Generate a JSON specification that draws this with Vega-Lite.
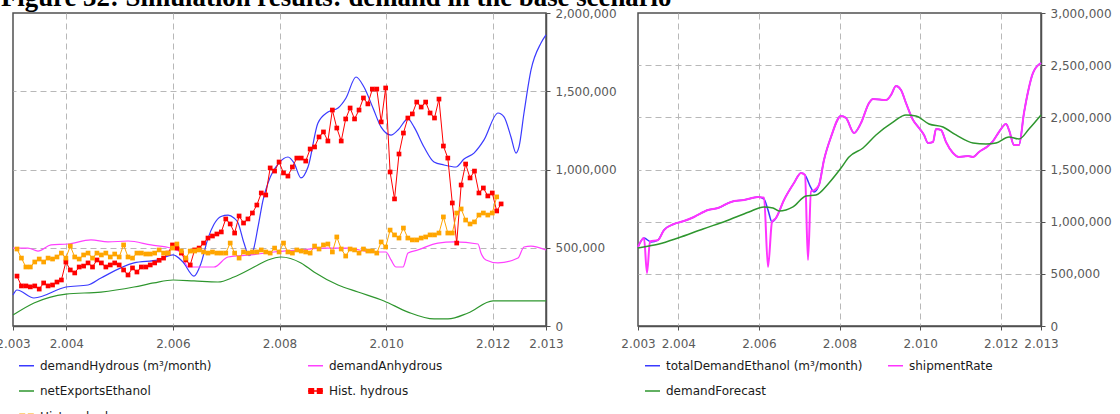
{
"$schema": "https://vega.github.io/schema/vega-lite/v6.json",
"background": "white",
"autosize": {"type": "pad"},
"padding": {"left": -5, "top": -15, "right": 0, "bottom": 0},
"title": {"text": "Figure 32: Simulation results: demand in the base scenario", "anchor": "start", "frame": "group", "font": "Liberation Serif", "fontSize": 26.8, "fontWeight": "bold", "color": "#000000", "baseline": "alphabetic", "offset": 0, "dx": -12, "dy": 27},
"datasets": {
"L": [
{"s":"demandHydrous (m³/month)","t":2003.000,"v":198000},{"s":"demandHydrous (m³/month)","t":2003.075,"v":230000},{"s":"demandHydrous (m³/month)","t":2003.394,"v":179000},{"s":"demandHydrous (m³/month)","t":2003.994,"v":249000},{"s":"demandHydrous (m³/month)","t":2004.407,"v":262000},{"s":"demandHydrous (m³/month)","t":2004.651,"v":307000},{"s":"demandHydrous (m³/month)","t":2005.270,"v":403000},{"s":"demandHydrous (m³/month)","t":2005.720,"v":422000},{"s":"demandHydrous (m³/month)","t":2006.002,"v":454000},{"s":"demandHydrous (m³/month)","t":2006.189,"v":409000},{"s":"demandHydrous (m³/month)","t":2006.396,"v":319000},{"s":"demandHydrous (m³/month)","t":2006.527,"v":400000},{"s":"demandHydrous (m³/month)","t":2006.658,"v":560000},{"s":"demandHydrous (m³/month)","t":2006.771,"v":650000},{"s":"demandHydrous (m³/month)","t":2006.902,"v":700000},{"s":"demandHydrous (m³/month)","t":2007.034,"v":709000},{"s":"demandHydrous (m³/month)","t":2007.146,"v":690000},{"s":"demandHydrous (m³/month)","t":2007.221,"v":660000},{"s":"demandHydrous (m³/month)","t":2007.334,"v":530000},{"s":"demandHydrous (m³/month)","t":2007.428,"v":450000},{"s":"demandHydrous (m³/month)","t":2007.503,"v":480000},{"s":"demandHydrous (m³/month)","t":2007.597,"v":633000},{"s":"demandHydrous (m³/month)","t":2007.691,"v":805000},{"s":"demandHydrous (m³/month)","t":2007.784,"v":914000},{"s":"demandHydrous (m³/month)","t":2007.991,"v":1042000},{"s":"demandHydrous (m³/month)","t":2008.159,"v":1080000},{"s":"demandHydrous (m³/month)","t":2008.272,"v":1042000},{"s":"demandHydrous (m³/month)","t":2008.403,"v":946000},{"s":"demandHydrous (m³/month)","t":2008.535,"v":1016000},{"s":"demandHydrous (m³/month)","t":2008.722,"v":1297000},{"s":"demandHydrous (m³/month)","t":2008.910,"v":1367000},{"s":"demandHydrous (m³/month)","t":2009.098,"v":1393000},{"s":"demandHydrous (m³/month)","t":2009.248,"v":1457000},{"s":"demandHydrous (m³/month)","t":2009.435,"v":1591000},{"s":"demandHydrous (m³/month)","t":2009.585,"v":1527000},{"s":"demandHydrous (m³/month)","t":2009.754,"v":1393000},{"s":"demandHydrous (m³/month)","t":2009.904,"v":1272000},{"s":"demandHydrous (m³/month)","t":2010.092,"v":1220000},{"s":"demandHydrous (m³/month)","t":2010.223,"v":1252000},{"s":"demandHydrous (m³/month)","t":2010.411,"v":1323000},{"s":"demandHydrous (m³/month)","t":2010.523,"v":1272000},{"s":"demandHydrous (m³/month)","t":2010.711,"v":1144000},{"s":"demandHydrous (m³/month)","t":2010.899,"v":1048000},{"s":"demandHydrous (m³/month)","t":2011.086,"v":1029000},{"s":"demandHydrous (m³/month)","t":2011.311,"v":1016000},{"s":"demandHydrous (m³/month)","t":2011.462,"v":1067000},{"s":"demandHydrous (m³/month)","t":2011.649,"v":1105000},{"s":"demandHydrous (m³/month)","t":2011.837,"v":1189000},{"s":"demandHydrous (m³/month)","t":2012.099,"v":1361000},{"s":"demandHydrous (m³/month)","t":2012.212,"v":1336000},{"s":"demandHydrous (m³/month)","t":2012.343,"v":1208000},{"s":"demandHydrous (m³/month)","t":2012.437,"v":1105000},{"s":"demandHydrous (m³/month)","t":2012.493,"v":1144000},{"s":"demandHydrous (m³/month)","t":2012.587,"v":1361000},{"s":"demandHydrous (m³/month)","t":2012.719,"v":1636000},{"s":"demandHydrous (m³/month)","t":2012.906,"v":1808000},{"s":"demandHydrous (m³/month)","t":2013.000,"v":1860000},
{"s":"demandAnhydrous","t":2003.000,"v":498000},{"s":"demandAnhydrous","t":2003.281,"v":498000},{"s":"demandAnhydrous","t":2003.469,"v":479000},{"s":"demandAnhydrous","t":2003.713,"v":518000},{"s":"demandAnhydrous","t":2004.032,"v":524000},{"s":"demandAnhydrous","t":2004.463,"v":550000},{"s":"demandAnhydrous","t":2004.782,"v":537000},{"s":"demandAnhydrous","t":2005.158,"v":543000},{"s":"demandAnhydrous","t":2005.589,"v":518000},{"s":"demandAnhydrous","t":2005.964,"v":498000},{"s":"demandAnhydrous","t":2006.152,"v":470000},{"s":"demandAnhydrous","t":2006.283,"v":377000},{"s":"demandAnhydrous","t":2006.771,"v":377000},{"s":"demandAnhydrous","t":2007.034,"v":441000},{"s":"demandAnhydrous","t":2007.465,"v":454000},{"s":"demandAnhydrous","t":2007.897,"v":473000},{"s":"demandAnhydrous","t":2008.403,"v":486000},{"s":"demandAnhydrous","t":2008.835,"v":498000},{"s":"demandAnhydrous","t":2009.285,"v":498000},{"s":"demandAnhydrous","t":2009.716,"v":473000},{"s":"demandAnhydrous","t":2009.998,"v":473000},{"s":"demandAnhydrous","t":2010.092,"v":422000},{"s":"demandAnhydrous","t":2010.186,"v":377000},{"s":"demandAnhydrous","t":2010.317,"v":377000},{"s":"demandAnhydrous","t":2010.411,"v":466000},{"s":"demandAnhydrous","t":2010.598,"v":486000},{"s":"demandAnhydrous","t":2010.973,"v":530000},{"s":"demandAnhydrous","t":2011.274,"v":537000},{"s":"demandAnhydrous","t":2011.724,"v":524000},{"s":"demandAnhydrous","t":2011.780,"v":466000},{"s":"demandAnhydrous","t":2011.874,"v":422000},{"s":"demandAnhydrous","t":2012.099,"v":403000},{"s":"demandAnhydrous","t":2012.474,"v":434000},{"s":"demandAnhydrous","t":2012.587,"v":505000},{"s":"demandAnhydrous","t":2012.718,"v":511000},{"s":"demandAnhydrous","t":2013.000,"v":486000},
{"s":"netExportsEthanol","t":2003.000,"v":70000},{"s":"netExportsEthanol","t":2003.394,"v":147000},{"s":"netExportsEthanol","t":2003.994,"v":204000},{"s":"netExportsEthanol","t":2004.651,"v":217000},{"s":"netExportsEthanol","t":2005.270,"v":249000},{"s":"netExportsEthanol","t":2005.645,"v":275000},{"s":"netExportsEthanol","t":2006.002,"v":294000},{"s":"netExportsEthanol","t":2006.396,"v":288000},{"s":"netExportsEthanol","t":2006.846,"v":281000},{"s":"netExportsEthanol","t":2007.146,"v":313000},{"s":"netExportsEthanol","t":2007.522,"v":377000},{"s":"netExportsEthanol","t":2007.784,"v":422000},{"s":"netExportsEthanol","t":2008.028,"v":441000},{"s":"netExportsEthanol","t":2008.403,"v":403000},{"s":"netExportsEthanol","t":2008.647,"v":345000},{"s":"netExportsEthanol","t":2009.098,"v":262000},{"s":"netExportsEthanol","t":2009.473,"v":217000},{"s":"netExportsEthanol","t":2009.961,"v":160000},{"s":"netExportsEthanol","t":2010.411,"v":89000},{"s":"netExportsEthanol","t":2010.899,"v":45000},{"s":"netExportsEthanol","t":2011.161,"v":45000},{"s":"netExportsEthanol","t":2011.537,"v":83000},{"s":"netExportsEthanol","t":2012.006,"v":160000},{"s":"netExportsEthanol","t":2013.000,"v":160000}
],
"H": [
{"s":"Hist. hydrous","t":2003.075,"v":319000},{"s":"Hist. hydrous","t":2003.158,"v":256000},{"s":"Hist. hydrous","t":2003.242,"v":256000},{"s":"Hist. hydrous","t":2003.325,"v":250000},{"s":"Hist. hydrous","t":2003.408,"v":256000},{"s":"Hist. hydrous","t":2003.492,"v":236000},{"s":"Hist. hydrous","t":2003.575,"v":275000},{"s":"Hist. hydrous","t":2003.658,"v":256000},{"s":"Hist. hydrous","t":2003.742,"v":262000},{"s":"Hist. hydrous","t":2003.825,"v":281000},{"s":"Hist. hydrous","t":2003.908,"v":294000},{"s":"Hist. hydrous","t":2003.992,"v":409000},
{"s":"Hist. hydrous","t":2004.075,"v":358000},{"s":"Hist. hydrous","t":2004.158,"v":339000},{"s":"Hist. hydrous","t":2004.242,"v":377000},{"s":"Hist. hydrous","t":2004.325,"v":383000},{"s":"Hist. hydrous","t":2004.408,"v":403000},{"s":"Hist. hydrous","t":2004.492,"v":377000},{"s":"Hist. hydrous","t":2004.575,"v":422000},{"s":"Hist. hydrous","t":2004.658,"v":403000},{"s":"Hist. hydrous","t":2004.742,"v":377000},{"s":"Hist. hydrous","t":2004.825,"v":390000},{"s":"Hist. hydrous","t":2004.908,"v":403000},{"s":"Hist. hydrous","t":2004.992,"v":390000},
{"s":"Hist. hydrous","t":2005.075,"v":358000},{"s":"Hist. hydrous","t":2005.158,"v":326000},{"s":"Hist. hydrous","t":2005.242,"v":371000},{"s":"Hist. hydrous","t":2005.325,"v":345000},{"s":"Hist. hydrous","t":2005.408,"v":377000},{"s":"Hist. hydrous","t":2005.492,"v":377000},{"s":"Hist. hydrous","t":2005.575,"v":390000},{"s":"Hist. hydrous","t":2005.658,"v":403000},{"s":"Hist. hydrous","t":2005.742,"v":420000},{"s":"Hist. hydrous","t":2005.825,"v":434000},{"s":"Hist. hydrous","t":2005.908,"v":466000},{"s":"Hist. hydrous","t":2005.992,"v":518000},
{"s":"Hist. hydrous","t":2006.075,"v":498000},{"s":"Hist. hydrous","t":2006.158,"v":466000},{"s":"Hist. hydrous","t":2006.242,"v":422000},{"s":"Hist. hydrous","t":2006.325,"v":390000},{"s":"Hist. hydrous","t":2006.408,"v":486000},{"s":"Hist. hydrous","t":2006.492,"v":498000},{"s":"Hist. hydrous","t":2006.575,"v":530000},{"s":"Hist. hydrous","t":2006.658,"v":562000},{"s":"Hist. hydrous","t":2006.742,"v":575000},{"s":"Hist. hydrous","t":2006.825,"v":588000},{"s":"Hist. hydrous","t":2006.908,"v":601000},{"s":"Hist. hydrous","t":2006.992,"v":684000},
{"s":"Hist. hydrous","t":2007.075,"v":652000},{"s":"Hist. hydrous","t":2007.158,"v":594000},{"s":"Hist. hydrous","t":2007.242,"v":703000},{"s":"Hist. hydrous","t":2007.325,"v":658000},{"s":"Hist. hydrous","t":2007.408,"v":684000},{"s":"Hist. hydrous","t":2007.492,"v":722000},{"s":"Hist. hydrous","t":2007.575,"v":773000},{"s":"Hist. hydrous","t":2007.658,"v":850000},{"s":"Hist. hydrous","t":2007.742,"v":837000},{"s":"Hist. hydrous","t":2007.825,"v":1010000},{"s":"Hist. hydrous","t":2007.908,"v":990000},{"s":"Hist. hydrous","t":2007.992,"v":1048000},
{"s":"Hist. hydrous","t":2008.075,"v":978000},{"s":"Hist. hydrous","t":2008.158,"v":958000},{"s":"Hist. hydrous","t":2008.242,"v":1016000},{"s":"Hist. hydrous","t":2008.325,"v":1073000},{"s":"Hist. hydrous","t":2008.408,"v":1073000},{"s":"Hist. hydrous","t":2008.492,"v":1054000},{"s":"Hist. hydrous","t":2008.575,"v":1131000},{"s":"Hist. hydrous","t":2008.658,"v":1144000},{"s":"Hist. hydrous","t":2008.742,"v":1208000},{"s":"Hist. hydrous","t":2008.825,"v":1240000},{"s":"Hist. hydrous","t":2008.908,"v":1182000},{"s":"Hist. hydrous","t":2008.992,"v":1380000},
{"s":"Hist. hydrous","t":2009.075,"v":1265000},{"s":"Hist. hydrous","t":2009.158,"v":1182000},{"s":"Hist. hydrous","t":2009.242,"v":1323000},{"s":"Hist. hydrous","t":2009.325,"v":1393000},{"s":"Hist. hydrous","t":2009.408,"v":1323000},{"s":"Hist. hydrous","t":2009.492,"v":1380000},{"s":"Hist. hydrous","t":2009.575,"v":1457000},{"s":"Hist. hydrous","t":2009.658,"v":1419000},{"s":"Hist. hydrous","t":2009.742,"v":1514000},{"s":"Hist. hydrous","t":2009.825,"v":1514000},{"s":"Hist. hydrous","t":2009.908,"v":1304000},{"s":"Hist. hydrous","t":2009.992,"v":1521000},
{"s":"Hist. hydrous","t":2010.075,"v":984000},{"s":"Hist. hydrous","t":2010.158,"v":812000},{"s":"Hist. hydrous","t":2010.242,"v":1099000},{"s":"Hist. hydrous","t":2010.325,"v":1233000},{"s":"Hist. hydrous","t":2010.408,"v":1329000},{"s":"Hist. hydrous","t":2010.492,"v":1355000},{"s":"Hist. hydrous","t":2010.575,"v":1431000},{"s":"Hist. hydrous","t":2010.658,"v":1399000},{"s":"Hist. hydrous","t":2010.742,"v":1431000},{"s":"Hist. hydrous","t":2010.825,"v":1361000},{"s":"Hist. hydrous","t":2010.908,"v":1329000},{"s":"Hist. hydrous","t":2010.992,"v":1450000},
{"s":"Hist. hydrous","t":2011.075,"v":1150000},{"s":"Hist. hydrous","t":2011.158,"v":1073000},{"s":"Hist. hydrous","t":2011.242,"v":786000},{"s":"Hist. hydrous","t":2011.325,"v":530000},{"s":"Hist. hydrous","t":2011.408,"v":901000},{"s":"Hist. hydrous","t":2011.492,"v":1035000},{"s":"Hist. hydrous","t":2011.575,"v":946000},{"s":"Hist. hydrous","t":2011.658,"v":990000},{"s":"Hist. hydrous","t":2011.742,"v":850000},{"s":"Hist. hydrous","t":2011.825,"v":882000},{"s":"Hist. hydrous","t":2011.908,"v":831000},{"s":"Hist. hydrous","t":2011.992,"v":850000},
{"s":"Hist. hydrous","t":2012.075,"v":735000},{"s":"Hist. hydrous","t":2012.158,"v":780000},
{"s":"Hist. anhydrous","t":2003.075,"v":492000},{"s":"Hist. anhydrous","t":2003.158,"v":434000},{"s":"Hist. anhydrous","t":2003.242,"v":377000},{"s":"Hist. anhydrous","t":2003.325,"v":377000},{"s":"Hist. anhydrous","t":2003.408,"v":409000},{"s":"Hist. anhydrous","t":2003.492,"v":428000},{"s":"Hist. anhydrous","t":2003.575,"v":409000},{"s":"Hist. anhydrous","t":2003.658,"v":434000},{"s":"Hist. anhydrous","t":2003.742,"v":428000},{"s":"Hist. anhydrous","t":2003.825,"v":441000},{"s":"Hist. anhydrous","t":2003.908,"v":466000},{"s":"Hist. anhydrous","t":2003.992,"v":434000},
{"s":"Hist. anhydrous","t":2004.075,"v":511000},{"s":"Hist. anhydrous","t":2004.158,"v":441000},{"s":"Hist. anhydrous","t":2004.242,"v":428000},{"s":"Hist. anhydrous","t":2004.325,"v":454000},{"s":"Hist. anhydrous","t":2004.408,"v":466000},{"s":"Hist. anhydrous","t":2004.492,"v":434000},{"s":"Hist. anhydrous","t":2004.575,"v":466000},{"s":"Hist. anhydrous","t":2004.658,"v":454000},{"s":"Hist. anhydrous","t":2004.742,"v":466000},{"s":"Hist. anhydrous","t":2004.825,"v":441000},{"s":"Hist. anhydrous","t":2004.908,"v":460000},{"s":"Hist. anhydrous","t":2004.992,"v":441000},
{"s":"Hist. anhydrous","t":2005.075,"v":518000},{"s":"Hist. anhydrous","t":2005.158,"v":441000},{"s":"Hist. anhydrous","t":2005.242,"v":434000},{"s":"Hist. anhydrous","t":2005.325,"v":466000},{"s":"Hist. anhydrous","t":2005.408,"v":466000},{"s":"Hist. anhydrous","t":2005.492,"v":460000},{"s":"Hist. anhydrous","t":2005.575,"v":460000},{"s":"Hist. anhydrous","t":2005.658,"v":466000},{"s":"Hist. anhydrous","t":2005.742,"v":486000},{"s":"Hist. anhydrous","t":2005.825,"v":466000},{"s":"Hist. anhydrous","t":2005.908,"v":466000},{"s":"Hist. anhydrous","t":2005.992,"v":498000},
{"s":"Hist. anhydrous","t":2006.075,"v":524000},{"s":"Hist. anhydrous","t":2006.158,"v":479000},{"s":"Hist. anhydrous","t":2006.242,"v":434000},{"s":"Hist. anhydrous","t":2006.325,"v":479000},{"s":"Hist. anhydrous","t":2006.408,"v":479000},{"s":"Hist. anhydrous","t":2006.492,"v":486000},{"s":"Hist. anhydrous","t":2006.575,"v":473000},{"s":"Hist. anhydrous","t":2006.658,"v":466000},{"s":"Hist. anhydrous","t":2006.742,"v":473000},{"s":"Hist. anhydrous","t":2006.825,"v":466000},{"s":"Hist. anhydrous","t":2006.908,"v":466000},{"s":"Hist. anhydrous","t":2006.992,"v":466000},
{"s":"Hist. anhydrous","t":2007.075,"v":530000},{"s":"Hist. anhydrous","t":2007.158,"v":466000},{"s":"Hist. anhydrous","t":2007.242,"v":434000},{"s":"Hist. anhydrous","t":2007.325,"v":473000},{"s":"Hist. anhydrous","t":2007.408,"v":466000},{"s":"Hist. anhydrous","t":2007.492,"v":473000},{"s":"Hist. anhydrous","t":2007.575,"v":473000},{"s":"Hist. anhydrous","t":2007.658,"v":486000},{"s":"Hist. anhydrous","t":2007.742,"v":473000},{"s":"Hist. anhydrous","t":2007.825,"v":466000},{"s":"Hist. anhydrous","t":2007.908,"v":498000},{"s":"Hist. anhydrous","t":2007.992,"v":473000},
{"s":"Hist. anhydrous","t":2008.075,"v":530000},{"s":"Hist. anhydrous","t":2008.158,"v":473000},{"s":"Hist. anhydrous","t":2008.242,"v":466000},{"s":"Hist. anhydrous","t":2008.325,"v":486000},{"s":"Hist. anhydrous","t":2008.408,"v":479000},{"s":"Hist. anhydrous","t":2008.492,"v":473000},{"s":"Hist. anhydrous","t":2008.575,"v":466000},{"s":"Hist. anhydrous","t":2008.658,"v":511000},{"s":"Hist. anhydrous","t":2008.742,"v":492000},{"s":"Hist. anhydrous","t":2008.825,"v":518000},{"s":"Hist. anhydrous","t":2008.908,"v":524000},{"s":"Hist. anhydrous","t":2008.992,"v":473000},
{"s":"Hist. anhydrous","t":2009.075,"v":569000},{"s":"Hist. anhydrous","t":2009.158,"v":492000},{"s":"Hist. anhydrous","t":2009.242,"v":447000},{"s":"Hist. anhydrous","t":2009.325,"v":492000},{"s":"Hist. anhydrous","t":2009.408,"v":486000},{"s":"Hist. anhydrous","t":2009.492,"v":466000},{"s":"Hist. anhydrous","t":2009.575,"v":492000},{"s":"Hist. anhydrous","t":2009.658,"v":479000},{"s":"Hist. anhydrous","t":2009.742,"v":479000},{"s":"Hist. anhydrous","t":2009.825,"v":466000},{"s":"Hist. anhydrous","t":2009.908,"v":537000},{"s":"Hist. anhydrous","t":2009.992,"v":505000},
{"s":"Hist. anhydrous","t":2010.075,"v":613000},{"s":"Hist. anhydrous","t":2010.158,"v":582000},{"s":"Hist. anhydrous","t":2010.242,"v":562000},{"s":"Hist. anhydrous","t":2010.325,"v":626000},{"s":"Hist. anhydrous","t":2010.408,"v":562000},{"s":"Hist. anhydrous","t":2010.492,"v":550000},{"s":"Hist. anhydrous","t":2010.575,"v":550000},{"s":"Hist. anhydrous","t":2010.658,"v":562000},{"s":"Hist. anhydrous","t":2010.742,"v":569000},{"s":"Hist. anhydrous","t":2010.825,"v":582000},{"s":"Hist. anhydrous","t":2010.908,"v":582000},{"s":"Hist. anhydrous","t":2010.992,"v":594000},
{"s":"Hist. anhydrous","t":2011.075,"v":697000},{"s":"Hist. anhydrous","t":2011.158,"v":594000},{"s":"Hist. anhydrous","t":2011.242,"v":594000},{"s":"Hist. anhydrous","t":2011.325,"v":722000},{"s":"Hist. anhydrous","t":2011.408,"v":748000},{"s":"Hist. anhydrous","t":2011.492,"v":677000},{"s":"Hist. anhydrous","t":2011.575,"v":652000},{"s":"Hist. anhydrous","t":2011.658,"v":665000},{"s":"Hist. anhydrous","t":2011.742,"v":709000},{"s":"Hist. anhydrous","t":2011.825,"v":722000},{"s":"Hist. anhydrous","t":2011.908,"v":709000},{"s":"Hist. anhydrous","t":2011.992,"v":722000},
{"s":"Hist. anhydrous","t":2012.075,"v":825000}
],
"R": [
{"s":"totalDemandEthanol (m³/month)","t":2003.000,"v":757000},{"s":"totalDemandEthanol (m³/month)","t":2003.149,"v":843000},{"s":"totalDemandEthanol (m³/month)","t":2003.323,"v":805000},{"s":"totalDemandEthanol (m³/month)","t":2003.496,"v":824000},{"s":"totalDemandEthanol (m³/month)","t":2003.645,"v":920000},{"s":"totalDemandEthanol (m³/month)","t":2003.893,"v":978000},{"s":"totalDemandEthanol (m³/month)","t":2004.141,"v":1006000},{"s":"totalDemandEthanol (m³/month)","t":2004.390,"v":1045000},{"s":"totalDemandEthanol (m³/month)","t":2004.737,"v":1112000},{"s":"totalDemandEthanol (m³/month)","t":2004.985,"v":1131000},{"s":"totalDemandEthanol (m³/month)","t":2005.308,"v":1189000},{"s":"totalDemandEthanol (m³/month)","t":2005.630,"v":1208000},{"s":"totalDemandEthanol (m³/month)","t":2005.978,"v":1236000},{"s":"totalDemandEthanol (m³/month)","t":2006.127,"v":1217000},{"s":"totalDemandEthanol (m³/month)","t":2006.226,"v":1112000},{"s":"totalDemandEthanol (m³/month)","t":2006.325,"v":997000},{"s":"totalDemandEthanol (m³/month)","t":2006.424,"v":1035000},{"s":"totalDemandEthanol (m³/month)","t":2006.623,"v":1208000},{"s":"totalDemandEthanol (m³/month)","t":2006.871,"v":1371000},{"s":"totalDemandEthanol (m³/month)","t":2007.045,"v":1467000},{"s":"totalDemandEthanol (m³/month)","t":2007.144,"v":1447000},{"s":"totalDemandEthanol (m³/month)","t":2007.293,"v":1323000},{"s":"totalDemandEthanol (m³/month)","t":2007.367,"v":1284000},{"s":"totalDemandEthanol (m³/month)","t":2007.491,"v":1351000},{"s":"totalDemandEthanol (m³/month)","t":2007.615,"v":1591000},{"s":"totalDemandEthanol (m³/month)","t":2007.789,"v":1812000},{"s":"totalDemandEthanol (m³/month)","t":2008.037,"v":2013000},{"s":"totalDemandEthanol (m³/month)","t":2008.161,"v":1994000},{"s":"totalDemandEthanol (m³/month)","t":2008.360,"v":1850000},{"s":"totalDemandEthanol (m³/month)","t":2008.534,"v":1946000},{"s":"totalDemandEthanol (m³/month)","t":2008.732,"v":2137000},{"s":"totalDemandEthanol (m³/month)","t":2008.831,"v":2176000},{"s":"totalDemandEthanol (m³/month)","t":2009.154,"v":2166000},{"s":"totalDemandEthanol (m³/month)","t":2009.278,"v":2214000},{"s":"totalDemandEthanol (m³/month)","t":2009.402,"v":2300000},{"s":"totalDemandEthanol (m³/month)","t":2009.526,"v":2262000},{"s":"totalDemandEthanol (m³/month)","t":2009.650,"v":2137000},{"s":"totalDemandEthanol (m³/month)","t":2009.824,"v":1975000},{"s":"totalDemandEthanol (m³/month)","t":2009.973,"v":1898000},{"s":"totalDemandEthanol (m³/month)","t":2010.097,"v":1831000},{"s":"totalDemandEthanol (m³/month)","t":2010.196,"v":1754000},{"s":"totalDemandEthanol (m³/month)","t":2010.320,"v":1764000},{"s":"totalDemandEthanol (m³/month)","t":2010.395,"v":1888000},{"s":"totalDemandEthanol (m³/month)","t":2010.519,"v":1879000},{"s":"totalDemandEthanol (m³/month)","t":2010.643,"v":1764000},{"s":"totalDemandEthanol (m³/month)","t":2010.816,"v":1658000},{"s":"totalDemandEthanol (m³/month)","t":2010.965,"v":1620000},{"s":"totalDemandEthanol (m³/month)","t":2011.189,"v":1629000},{"s":"totalDemandEthanol (m³/month)","t":2011.313,"v":1620000},{"s":"totalDemandEthanol (m³/month)","t":2011.462,"v":1668000},{"s":"totalDemandEthanol (m³/month)","t":2011.685,"v":1725000},{"s":"totalDemandEthanol (m³/month)","t":2011.809,"v":1773000},{"s":"totalDemandEthanol (m³/month)","t":2011.958,"v":1860000},{"s":"totalDemandEthanol (m³/month)","t":2012.132,"v":1936000},{"s":"totalDemandEthanol (m³/month)","t":2012.206,"v":1879000},{"s":"totalDemandEthanol (m³/month)","t":2012.330,"v":1735000},{"s":"totalDemandEthanol (m³/month)","t":2012.454,"v":1735000},{"s":"totalDemandEthanol (m³/month)","t":2012.578,"v":2042000},{"s":"totalDemandEthanol (m³/month)","t":2012.677,"v":2243000},{"s":"totalDemandEthanol (m³/month)","t":2012.801,"v":2425000},{"s":"totalDemandEthanol (m³/month)","t":2013.000,"v":2521000},
{"s":"shipmentRate","t":2003.000,"v":757000},{"s":"shipmentRate","t":2003.149,"v":843000},{"s":"shipmentRate","t":2003.223,"v":508000},{"s":"shipmentRate","t":2003.298,"v":810000},{"s":"shipmentRate","t":2003.496,"v":824000},{"s":"shipmentRate","t":2003.645,"v":920000},{"s":"shipmentRate","t":2003.893,"v":978000},{"s":"shipmentRate","t":2004.141,"v":1006000},{"s":"shipmentRate","t":2004.390,"v":1045000},{"s":"shipmentRate","t":2004.737,"v":1112000},{"s":"shipmentRate","t":2004.985,"v":1131000},{"s":"shipmentRate","t":2005.308,"v":1189000},{"s":"shipmentRate","t":2005.630,"v":1208000},{"s":"shipmentRate","t":2005.978,"v":1236000},{"s":"shipmentRate","t":2006.127,"v":1230000},{"s":"shipmentRate","t":2006.226,"v":565000},{"s":"shipmentRate","t":2006.325,"v":997000},{"s":"shipmentRate","t":2006.424,"v":1035000},{"s":"shipmentRate","t":2006.623,"v":1208000},{"s":"shipmentRate","t":2006.871,"v":1371000},{"s":"shipmentRate","t":2007.045,"v":1467000},{"s":"shipmentRate","t":2007.144,"v":1447000},{"s":"shipmentRate","t":2007.218,"v":633000},{"s":"shipmentRate","t":2007.293,"v":1290000},{"s":"shipmentRate","t":2007.367,"v":1300000},{"s":"shipmentRate","t":2007.491,"v":1351000},{"s":"shipmentRate","t":2007.615,"v":1591000},{"s":"shipmentRate","t":2007.789,"v":1812000},{"s":"shipmentRate","t":2008.037,"v":2013000},{"s":"shipmentRate","t":2008.161,"v":1994000},{"s":"shipmentRate","t":2008.360,"v":1850000},{"s":"shipmentRate","t":2008.534,"v":1946000},{"s":"shipmentRate","t":2008.732,"v":2137000},{"s":"shipmentRate","t":2008.831,"v":2176000},{"s":"shipmentRate","t":2009.154,"v":2166000},{"s":"shipmentRate","t":2009.278,"v":2214000},{"s":"shipmentRate","t":2009.402,"v":2300000},{"s":"shipmentRate","t":2009.526,"v":2262000},{"s":"shipmentRate","t":2009.650,"v":2137000},{"s":"shipmentRate","t":2009.824,"v":1975000},{"s":"shipmentRate","t":2009.973,"v":1898000},{"s":"shipmentRate","t":2010.097,"v":1831000},{"s":"shipmentRate","t":2010.196,"v":1754000},{"s":"shipmentRate","t":2010.320,"v":1764000},{"s":"shipmentRate","t":2010.395,"v":1888000},{"s":"shipmentRate","t":2010.519,"v":1879000},{"s":"shipmentRate","t":2010.643,"v":1764000},{"s":"shipmentRate","t":2010.816,"v":1658000},{"s":"shipmentRate","t":2010.965,"v":1620000},{"s":"shipmentRate","t":2011.189,"v":1629000},{"s":"shipmentRate","t":2011.313,"v":1620000},{"s":"shipmentRate","t":2011.462,"v":1668000},{"s":"shipmentRate","t":2011.685,"v":1725000},{"s":"shipmentRate","t":2011.809,"v":1773000},{"s":"shipmentRate","t":2011.958,"v":1860000},{"s":"shipmentRate","t":2012.132,"v":1936000},{"s":"shipmentRate","t":2012.206,"v":1879000},{"s":"shipmentRate","t":2012.330,"v":1735000},{"s":"shipmentRate","t":2012.454,"v":1735000},{"s":"shipmentRate","t":2012.578,"v":2042000},{"s":"shipmentRate","t":2012.677,"v":2243000},{"s":"shipmentRate","t":2012.801,"v":2425000},{"s":"shipmentRate","t":2013.000,"v":2521000},
{"s":"demandForecast","t":2003.000,"v":748000},{"s":"demandForecast","t":2003.273,"v":767000},{"s":"demandForecast","t":2003.521,"v":786000},{"s":"demandForecast","t":2003.993,"v":843000},{"s":"demandForecast","t":2004.613,"v":930000},{"s":"demandForecast","t":2005.184,"v":1006000},{"s":"demandForecast","t":2005.754,"v":1093000},{"s":"demandForecast","t":2006.127,"v":1141000},{"s":"demandForecast","t":2006.350,"v":1131000},{"s":"demandForecast","t":2006.499,"v":1102000},{"s":"demandForecast","t":2006.846,"v":1141000},{"s":"demandForecast","t":2007.169,"v":1246000},{"s":"demandForecast","t":2007.417,"v":1256000},{"s":"demandForecast","t":2007.739,"v":1371000},{"s":"demandForecast","t":2008.037,"v":1514000},{"s":"demandForecast","t":2008.236,"v":1620000},{"s":"demandForecast","t":2008.583,"v":1706000},{"s":"demandForecast","t":2008.906,"v":1831000},{"s":"demandForecast","t":2009.328,"v":1955000},{"s":"demandForecast","t":2009.650,"v":2022000},{"s":"demandForecast","t":2009.898,"v":2013000},{"s":"demandForecast","t":2010.221,"v":1936000},{"s":"demandForecast","t":2010.568,"v":1907000},{"s":"demandForecast","t":2010.891,"v":1831000},{"s":"demandForecast","t":2011.313,"v":1754000},{"s":"demandForecast","t":2011.635,"v":1744000},{"s":"demandForecast","t":2011.883,"v":1754000},{"s":"demandForecast","t":2012.206,"v":1812000},{"s":"demandForecast","t":2012.454,"v":1792000},{"s":"demandForecast","t":2012.702,"v":1888000},{"s":"demandForecast","t":2013.000,"v":2022000}
]
},
"spacing": 92,
"bounds": "flush",
"resolve": {"scale": {"color": "independent", "shape": "independent", "x": "independent", "y": "independent"}, "legend": {"color": "independent", "shape": "independent"}},
"hconcat": [
{
"width": 533, "height": 313,
"encoding": {
  "x": {"field": "t", "type": "quantitative", "scale": {"domain": [2003, 2013], "nice": false, "zero": false},
        "axis": {"values": [2003, 2004, 2006, 2008, 2010, 2012, 2013], "labelExpr": "replace(format(datum.value, ','), ',', '.')", "labelPadding": 8, "labelFlush": false,
                 "gridColor": {"condition": {"test": "datum.value === 2003 || datum.value === 2013", "value": "transparent"}, "value": "#b8b8b8"}}},
  "y": {"field": "v", "type": "quantitative", "scale": {"domain": [0, 2000000], "nice": false},
        "axis": {"orient": "right", "values": [0, 500000, 1000000, 1500000, 2000000], "labelExpr": "format(datum.value, ',')", "labelPadding": 5, "labelFlush": false,
                 "gridColor": {"condition": {"test": "datum.value === 0 || datum.value === 2000000", "value": "transparent"}, "value": "#b8b8b8"}}},
  "color": {"field": "s", "type": "nominal",
            "scale": {"domain": ["demandHydrous (m³/month)", "demandAnhydrous", "netExportsEthanol", "Hist. hydrous", "Hist. anhydrous"], "range": ["#3a3aff", "#ff40ff", "#2e962e", "#ff0000", "#ffa500"]},
            "legend": {"orient": "none", "direction": "horizontal", "legendX": 5, "legendY": 344, "columns": 2, "columnPadding": 93, "rowPadding": 10.5, "symbolType": "stroke"}}
},
"resolve": {"scale": {"shape": "shared", "color": "shared"}, "legend": {"shape": "shared", "color": "shared"}},
"layer": [
  {"data": {"name": "L"}, "mark": {"type": "line", "strokeWidth": 1.2, "interpolate": "monotone"}},
  {"data": {"name": "H"}, "mark": {"type": "line", "strokeWidth": 1}},
  {"data": {"name": "H"}, "mark": {"type": "point", "shape": "square", "filled": true, "size": 22, "opacity": 1}},
  {"data": {"name": "H"}, "mark": {"type": "point", "filled": true, "opacity": 0},
   "encoding": {"shape": {"field": "s", "type": "nominal",
      "scale": {"domain": ["demandHydrous (m³/month)", "demandAnhydrous", "netExportsEthanol", "Hist. hydrous", "Hist. anhydrous"],
                "range": ["stroke", "stroke", "stroke", "M-1,0H1M-0.87,-0.3H-0.27V0.3H-0.87ZM0.27,-0.3H0.87V0.3H0.27Z", "M-1,0H1M-0.87,-0.3H-0.27V0.3H-0.87ZM0.27,-0.3H0.87V0.3H0.27Z"]},
      "legend": {"orient": "none", "direction": "horizontal", "legendX": 5, "legendY": 344, "columns": 2, "columnPadding": 93, "rowPadding": 10.5}}}}
]
},
{
"width": 403, "height": 313,
"data": {"name": "R"},
"encoding": {
  "x": {"field": "t", "type": "quantitative", "scale": {"domain": [2003, 2013], "nice": false, "zero": false},
        "axis": {"values": [2003, 2004, 2006, 2008, 2010, 2012, 2013], "labelExpr": "replace(format(datum.value, ','), ',', '.')", "labelPadding": 8, "labelFlush": false,
                 "gridColor": {"condition": {"test": "datum.value === 2003 || datum.value === 2013", "value": "transparent"}, "value": "#b8b8b8"}}},
  "y": {"field": "v", "type": "quantitative", "scale": {"domain": [0, 3000000], "nice": false},
        "axis": {"orient": "right", "values": [0, 500000, 1000000, 1500000, 2000000, 2500000, 3000000], "labelExpr": "format(datum.value, ',')", "labelPadding": 5, "labelFlush": false,
                 "gridColor": {"condition": {"test": "datum.value === 0 || datum.value === 3000000", "value": "transparent"}, "value": "#b8b8b8"}}},
  "color": {"field": "s", "type": "nominal",
            "scale": {"domain": ["totalDemandEthanol (m³/month)", "shipmentRate", "demandForecast"], "range": ["#3a3aff", "#ff33ff", "#2e962e"]},
            "legend": {"orient": "none", "direction": "horizontal", "legendX": 6, "legendY": 344, "columns": 2, "columnPadding": 22, "rowPadding": 10.5}}
},
"layer": [
  {"transform": [{"filter": "datum.s === 'totalDemandEthanol (m³/month)'"}], "mark": {"type": "line", "strokeWidth": 1.5, "interpolate": "monotone"}},
  {"transform": [{"filter": "datum.s === 'shipmentRate'"}], "mark": {"type": "line", "strokeWidth": 2, "interpolate": "monotone"}},
  {"transform": [{"filter": "datum.s === 'demandForecast'"}], "mark": {"type": "line", "strokeWidth": 1.5, "interpolate": "monotone"}}
]
}
],
"config": {
  "font": "DejaVu Sans",
  "view": {"stroke": "#505050", "strokeWidth": 1.5},
  "axis": {"title": null, "labelFont": "DejaVu Sans", "labelFontSize": 12, "labelColor": "#5a5a5a", "domainColor": "#505050", "domainWidth": 1.5, "tickColor": "#505050", "tickWidth": 1, "tickSize": 4, "gridDash": [6, 4], "gridWidth": 1, "labelOverlap": false},
  "legend": {"title": null, "symbolType": "stroke", "symbolSize": 225, "symbolStrokeWidth": 1.5, "symbolOpacity": 1, "labelFont": "DejaVu Sans", "labelFontSize": 12, "labelColor": "#1a1a1a", "labelOffset": 5, "labelLimit": 400}
}
}
